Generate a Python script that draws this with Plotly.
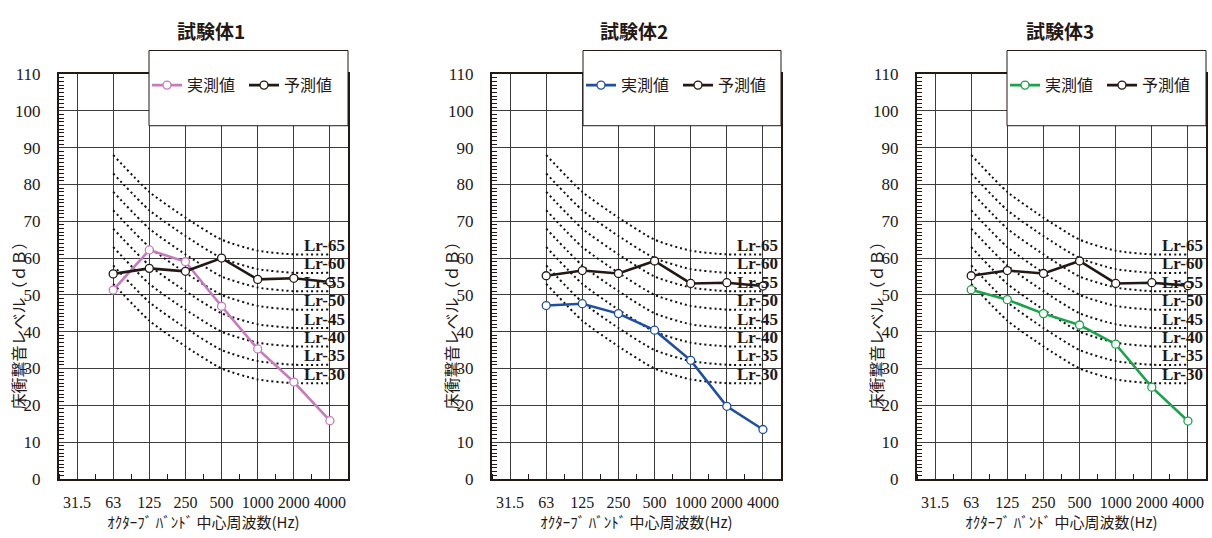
import plotly.graph_objects as go

# ---------------- data ----------------
FREQ_LABELS = ["31.5", "63", "125", "250", "500", "1000", "2000", "4000"]
MEAS_FREQ = ["63", "125", "250", "500", "1000", "2000", "4000"]

TITLES = ["試験体1", "試験体2", "試験体3"]
SERIES_NAMES = ["実測値", "予測値"]

meas_1 = [51.3, 62.2, 59.0, 46.9, 35.3, 26.3, 15.8]
pred_1 = [55.7, 57.2, 56.4, 60.0, 54.2, 54.5, 53.5]
meas_2 = [47.1, 47.6, 44.9, 40.4, 32.2, 19.7, 13.4]
pred_2 = [55.2, 56.6, 55.8, 59.2, 53.1, 53.3, 52.4]
meas_3 = [51.4, 48.7, 44.9, 41.8, 36.6, 24.9, 15.7]
pred_3 = [55.2, 56.6, 55.8, 59.2, 53.1, 53.3, 52.5]

LR_LEVELS = [65, 60, 55, 50, 45, 40, 35, 30]
lr65 = [88, 78, 71, 65, 62, 61, 61]
lr60 = [83, 73, 66, 60, 57, 56, 56]
lr55 = [78, 68, 61, 55, 52, 51, 51]
lr50 = [73, 63, 56, 50, 47, 46, 46]
lr45 = [68, 58, 51, 45, 42, 41, 41]
lr40 = [63, 53, 46, 40, 37, 36, 36]
lr35 = [58, 48, 41, 35, 32, 31, 31]
lr30 = [53, 43, 36, 30, 27, 26, 26]
LR_CURVES = [lr65, lr60, lr55, lr50, lr45, lr40, lr35, lr30]

MEAS_COLORS = ["#C77BBE", "#1F4FA3", "#1AA34A"]
PRED_COLOR = "#231815"

# ---------------- layout helpers ----------------
W, H = 1212, 538
PANEL_X = [(59, 348), (492, 781), (917, 1206)]
PLOT_TOP, PLOT_BOTTOM = 67.5, 487
LEGEND_BOX = [(149, 348), (583, 781), (1007, 1206)]
TITLE_X = [211, 634, 1060]
YLABEL_X = [18, 451, 876]

SERIF = "Liberation Serif"
JP = "Noto Sans CJK JP"
INK = "#231815"


def px(x):
    return x / W


def py(y):
    return 1 - y / H


xs = [FREQ_LABELS.index(f) for f in MEAS_FREQ]
meas_all = [meas_1, meas_2, meas_3]
pred_all = [pred_1, pred_2, pred_3]

fig = go.Figure()
annotations = []
shapes = []
axes = {}

for i in range(3):
    sfx = "" if i == 0 else str(i + 1)
    xa, ya = "x" + sfx, "y" + sfx
    lg = "legend" + sfx

    # Lr reference curves
    for lvl, curve in zip(LR_LEVELS, LR_CURVES):
        fig.add_trace(go.Scatter(
            x=xs, y=curve, mode="lines", xaxis=xa, yaxis=ya,
            line=dict(color="#111111", width=2, dash="2px,3px", shape="spline", smoothing=0.6),
            showlegend=False, hoverinfo="skip"))
        annotations.append(dict(
            x=7.5, y=lvl - 1.6, xref=xa, yref=ya, text="<b>Lr-%d</b>" % lvl,
            showarrow=False, xanchor="right", yanchor="middle", xshift=-1,
            font=dict(family=SERIF, size=17, color=INK)))

    fig.add_trace(go.Scatter(
        x=xs, y=meas_all[i], mode="lines+markers", name=SERIES_NAMES[0],
        xaxis=xa, yaxis=ya, legend=lg,
        line=dict(color=MEAS_COLORS[i], width=2.6),
        marker=dict(symbol="circle", size=8, color="white",
                    line=dict(color=MEAS_COLORS[i], width=1.3))))
    fig.add_trace(go.Scatter(
        x=xs, y=pred_all[i], mode="lines+markers", name=SERIES_NAMES[1],
        xaxis=xa, yaxis=ya, legend=lg,
        line=dict(color=PRED_COLOR, width=2.6),
        marker=dict(symbol="circle", size=8, color="white",
                    line=dict(color=PRED_COLOR, width=1.3))))

    x0, x1 = PANEL_X[i]
    axes["xaxis" + sfx] = dict(
        domain=[px(x0), px(x1)], anchor=ya, range=[-0.5, 7.5],
        tickmode="array", tickvals=list(range(len(FREQ_LABELS))), ticktext=FREQ_LABELS,
        showgrid=True, gridcolor="#3c3c3c", gridwidth=1,
        showline=True, linecolor=INK, linewidth=2, mirror=True,
        ticks="", ticklabelstandoff=8,
        minor=dict(tickvals=[k + 0.5 for k in range(-1, 8)], ticks="inside", ticklen=5,
                   tickcolor=INK, tickwidth=1, showgrid=False),
        tickfont=dict(family=SERIF, size=16, color=INK),
        title=dict(text="ｵｸﾀｰﾌﾞ ﾊﾞﾝﾄﾞ 中心周波数(Hz)", standoff=2,
                   font=dict(family=JP, size=15, color=INK)),
        zeroline=False, fixedrange=True)
    axes["yaxis" + sfx] = dict(
        domain=[py(PLOT_BOTTOM), py(PLOT_TOP)], anchor=xa, range=[0, 110],
        tickmode="linear", tick0=0, dtick=10,
        showgrid=True, gridcolor="#3c3c3c", gridwidth=1,
        showline=True, linecolor=INK, linewidth=2, mirror=True,
        ticks="", ticklabelstandoff=13,
        minor=dict(tick0=0, dtick=1, ticks="inside", ticklen=5, tickcolor=INK,
                   tickwidth=1, showgrid=False),
        tickfont=dict(family=SERIF, size=17, color=INK),
        zeroline=False, fixedrange=True)

    # legend box
    bx0, bx1 = LEGEND_BOX[i]
    shapes.append(dict(type="rect", xref="paper", yref="paper",
                       x0=px(bx0), x1=px(bx1), y0=py(121), y1=py(43),
                       fillcolor="white", line=dict(color=INK, width=1), layer="above"))
    axes[lg] = dict(
        x=px(bx0 - 2), y=py(79), xanchor="left", yanchor="middle",
        orientation="h", bgcolor="rgba(0,0,0,0)", borderwidth=0,
        itemwidth=30, entrywidth=52, entrywidthmode="pixels",
        font=dict(family=JP, size=16, color=INK))

    # title
    annotations.append(dict(x=px(TITLE_X[i]), y=py(22), xref="paper", yref="paper",
                            text="<b>" + TITLES[i] + "</b>", showarrow=False,
                            xanchor="center", yanchor="middle",
                            font=dict(family=JP, size=19, color=INK)))
    # y-axis title
    annotations.append(dict(x=px(YLABEL_X[i]), y=py(324), xref="paper", yref="paper",
                            text="床衝撃音レベル（ｄＢ）", showarrow=False, textangle=-90,
                            xanchor="center", yanchor="middle",
                            font=dict(family=JP, size=16, color=INK)))

fig.update_layout(
    width=W, height=H, margin=dict(l=0, r=0, t=0, b=0),
    paper_bgcolor="white", plot_bgcolor="white",
    font=dict(family=SERIF, size=17, color=INK),
    annotations=annotations, shapes=shapes,
    showlegend=True, **axes)

fig.write_html("out.html", config={"displayModeBar": False})
